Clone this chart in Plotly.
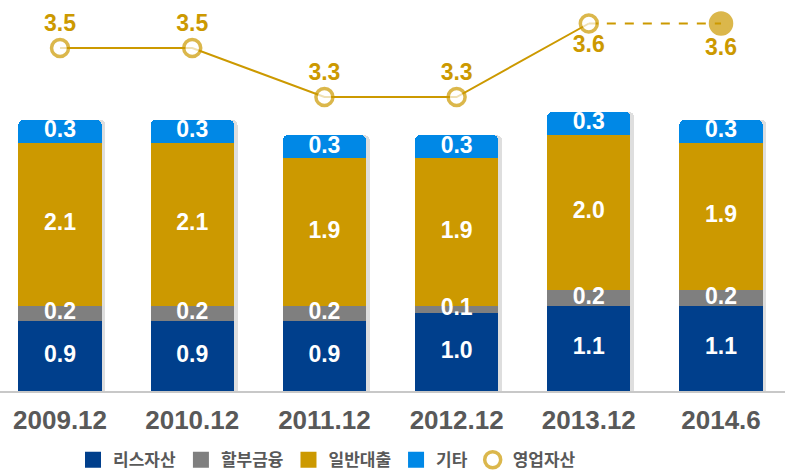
import plotly.graph_objects as go

# Periods and asset breakdown (trillion won)
periods = ["2009.12", "2010.12", "2011.12", "2012.12", "2013.12", "2014.6"]
lease = [0.9, 0.9, 0.9, 1.0, 1.1, 1.1]
installment = [0.2, 0.2, 0.2, 0.1, 0.2, 0.2]
loans = [2.1, 2.1, 1.9, 1.9, 2.0, 1.9]
other = [0.3, 0.3, 0.3, 0.3, 0.3, 0.3]
operating = [3.5, 3.5, 3.3, 3.3, 3.6, 3.6]

series = [
    ("리스자산", lease, "#003F8C"),
    ("할부금융", installment, "#7F7F7F"),
    ("일반대출", loans, "#CC9900"),
    ("기타", other, "#0088E6"),
]

GOLD = "#CC9900"
FONT = "Arial, Liberation Sans, Noto Sans CJK KR, sans-serif"
BAR_W = 0.63

fig = go.Figure()

# soft drop shadow behind each stack
totals = [sum(v) for v in zip(lease, installment, loans, other)]
fig.add_trace(go.Bar(
    x=periods, y=totals, width=BAR_W, offset=-BAR_W / 2 + 0.028,
    marker=dict(color="rgba(0,0,0,0.13)", line=dict(width=0), cornerradius=5),
    hoverinfo="skip", showlegend=False, xaxis="x", yaxis="y",
))

# stacked segments
base = [0.0] * len(periods)
for name, vals, color in series:
    fig.add_trace(go.Bar(
        x=periods, y=vals, name=name, width=BAR_W,
        marker=dict(color=color, line=dict(width=0), cornerradius=5),
        showlegend=False, xaxis="x", yaxis="y3",
    ))
    # value label centred on each segment
    mids = [b + v / 2 for b, v in zip(base, vals)]
    fig.add_trace(go.Scatter(
        x=periods, y=mids, mode="text",
        text=[f"{v:.1f}" for v in vals], textposition="middle center",
        textfont=dict(color="white", size=23, family=FONT, weight="bold"),
        showlegend=False, hoverinfo="skip", xaxis="x", yaxis="y3",
    ))
    base = [b + v for b, v in zip(base, vals)]

# operating assets line: solid through 2013.12, dashed to 2014.6
fig.add_trace(go.Scatter(
    x=periods[:5], y=operating[:5], mode="lines",
    line=dict(color=GOLD, width=2), showlegend=False, hoverinfo="skip",
    xaxis="x", yaxis="y2",
))
fig.add_trace(go.Scatter(
    x=periods[4:], y=operating[4:], mode="lines",
    line=dict(color=GOLD, width=2, dash="dash"), showlegend=False, hoverinfo="skip",
    xaxis="x", yaxis="y2",
))

# legend entries for the stacked series
for name, _, color in series:
    fig.add_trace(go.Scatter(
        x=[None], y=[None], name=name, mode="markers",
        marker=dict(symbol="square", size=16, color=color),
        xaxis="x", yaxis="y3",
    ))

n = len(periods)
fig.add_trace(go.Scatter(
    x=periods, y=operating, name="영업자산", mode="markers+text",
    marker=dict(
        color=["white"] * (n - 1) + [GOLD],
        size=[17] * (n - 1) + [21],
        line=dict(color=GOLD, width=3.5),
    ),
    text=[f"{v:.1f}" for v in operating],
    textposition=["top center"] * 4 + ["bottom center"] * 2,
    textfont=dict(color=GOLD, size=23, family=FONT, weight="bold"),
    xaxis="x", yaxis="y2",
))

fig.update_layout(
    width=785, height=472,
    margin=dict(l=0, r=0, t=5, b=81, autoexpand=False),
    paper_bgcolor="white", plot_bgcolor="white",
    barmode="stack", bargap=0.37,
    font=dict(family=FONT),
    xaxis=dict(
        type="category", range=[-0.454, 5.484], automargin=False,
        showline=True, linecolor="#C8C8C8", linewidth=2,
        showgrid=False, zeroline=False, ticks="",
        tickfont=dict(size=26, color="#595959", family=FONT, weight="bold"),
        ticklabelstandoff=5,
    ),
    yaxis=dict(range=[0, 4.98], visible=False),
    yaxis3=dict(range=[0, 4.98], visible=False, overlaying="y"),
    yaxis2=dict(range=[2.1, 3.6755], visible=False, overlaying="y"),
    showlegend=True,
    legend=dict(
        orientation="h", x=0.093, xanchor="left",
        yref="container", y=0.025, yanchor="middle",
        font=dict(size=17, color="#595959", family="Noto Sans CJK KR", weight="bold"),
        traceorder="normal", itemsizing="trace", itemwidth=30,
        bgcolor="rgba(0,0,0,0)",
    ),
)

fig.write_html("out.html")
